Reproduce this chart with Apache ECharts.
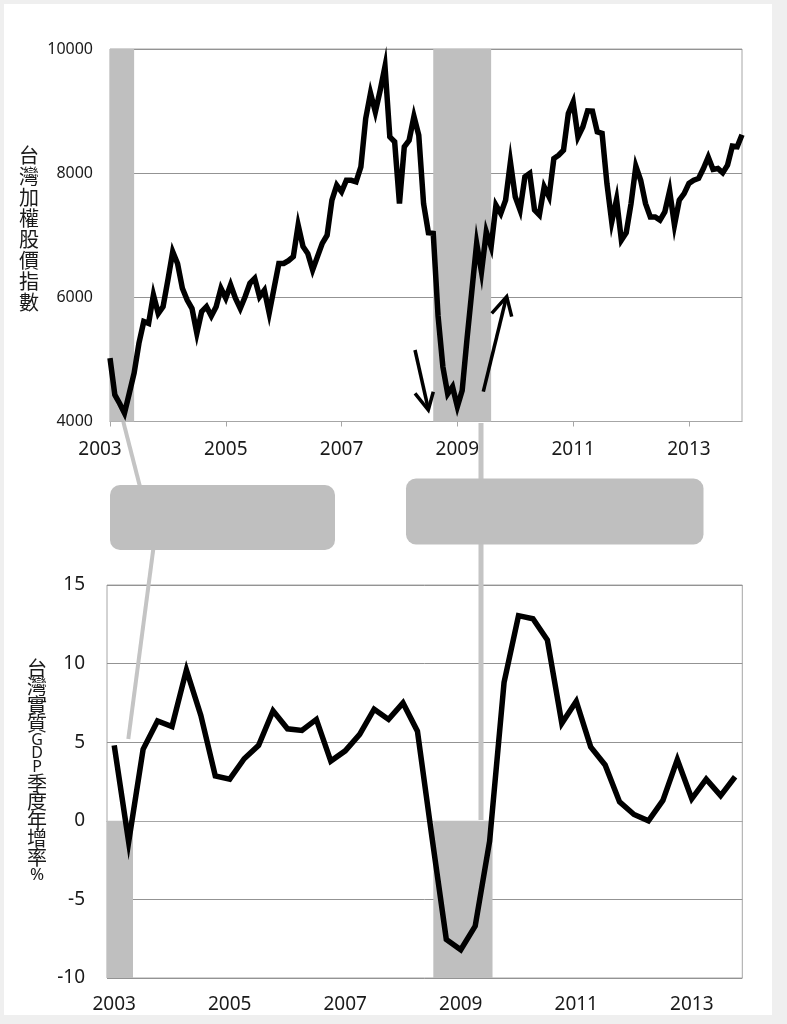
<!DOCTYPE html>
<html>
<head>
<meta charset="utf-8">
<script src="https://cdn.jsdelivr.net/npm/echarts@6/dist/echarts.min.js"></script>
<style>
  html, body { margin: 0; padding: 0; background: #efefef; }
  #paper { position: absolute; left: 4px; top: 4px; width: 768px; height: 1011px; background: #fff; }
  #chart { position: absolute; left: 0; top: 0; width: 787px; height: 1024px; }
</style>
</head>
<body>
<div id="paper"></div>
<div id="chart"></div>
<script>
/* ---------------- data ---------------- */
const years = [2003, 2004, 2005, 2006, 2007, 2008, 2009, 2010, 2011, 2012, 2013];

// 台灣加權股價指數, monthly, Jan 2003 - Dec 2013
const taiex = [
  5020, 4430, 4290, 4135, 4455, 4780, 5260, 5610, 5580, 6040, 5740, 5850,
  6280, 6735, 6545, 6145, 5955, 5820, 5420, 5770, 5850, 5700, 5850, 6145,
  5985, 6200, 5985, 5820, 6010, 6225, 6305, 6010, 6115, 5745, 6145, 6545,
  6545, 6590, 6655, 7165, 6820, 6705, 6440, 6655, 6870, 7000, 7565, 7805,
  7700, 7885, 7885, 7860, 8100, 8880, 9290, 8985, 9335, 9720, 8585, 8505,
  7510, 8425, 8530, 8915, 8610, 7510, 7040, 7030, 5700, 4880, 4445, 4560,
  4240, 4500, 5330, 6100, 6870, 6410, 7055, 6815, 7485, 7350, 7565, 8180,
  7620, 7405, 7940, 7995, 7405, 7325, 7780, 7620, 8235, 8290, 8370, 8960,
  9145, 8585, 8745, 9005, 9000, 8665, 8640, 7835, 7215, 7575, 6920, 7040,
  7510, 8110, 7885, 7510, 7295, 7295, 7245, 7375, 7715, 7165, 7565, 7670,
  7835, 7885, 7915, 8075, 8260, 8060, 8075, 8005, 8130, 8435, 8425, 8620
];

// 台灣實質GDP季度年增率 %, quarterly 2003Q1 - 2013Q4
const gdp = [
  4.8, -1.35, 4.55, 6.35,
  6.0, 9.6, 6.7, 2.85,
  2.65, 3.95, 4.8, 7.0,
  5.85, 5.75, 6.45, 3.8,
  4.45, 5.5, 7.1, 6.45,
  7.5, 5.7, -1.0, -7.55,
  -8.2, -6.7, -1.3, 8.8,
  13.05, 12.85, 11.5, 6.2,
  7.6, 4.7, 3.55, 1.2,
  0.4, 0.0, 1.3, 3.9,
  1.4, 2.65, 1.6, 2.8
];

// recession shading: months for the index chart, quarter units for the GDP chart
const stockShade = [['2003-01', '2003-06'], ['2008-08', '2009-08']];
const gdpShade = [[0, 1.8], [22.6, 26.7]];

/* ---------------- categories ---------------- */
const months = [];
const quarters = [];
years.forEach(y => {
  for (let m = 1; m <= 12; m++) months.push(y + '-' + String(m).padStart(2, '0'));
  for (let q = 1; q <= 4; q++) quarters.push(y + 'Q' + q);
});

const FONT = '"Noto Sans", "Noto Sans CJK TC", sans-serif';
const CJK = '"Noto Sans CJK TC", sans-serif';
const SHADE = '#bfbfbf';
const FRAME = '#a6a6a6';
const GRID = '#939393';
const TXT = '#1a1a1a';

// upright vertical text, one glyph per line
function vtext(str, x, y, size, lh, family) {
  return {
    type: 'text', x: x, y: y, z: 5,
    style: {
      text: str.split('').join('\n'), fill: TXT,
      font: size + 'px ' + family, lineHeight: lh, align: 'center', verticalAlign: 'top'
    }
  };
}

const chart = echarts.init(document.getElementById('chart'));

chart.setOption({
  backgroundColor: 'transparent',
  animation: false,
  grid: [
    { left: 110, top: 49, width: 632, height: 372.5, show: true, borderColor: FRAME, borderWidth: 1 },
    { left: 107, top: 585, width: 635.3, height: 393, show: true, borderColor: FRAME, borderWidth: 1 }
  ],
  xAxis: [
    {
      gridIndex: 0, type: 'category', data: months, boundaryGap: false,
      axisLine: { lineStyle: { color: FRAME } },
      axisTick: { interval: 23, length: 5, lineStyle: { color: FRAME } },
      axisLabel: {
        interval: 23, margin: 19, fontSize: 19, color: TXT, fontFamily: FONT,
        formatter: (v, i) => i === 0 ? '{s|' + v.slice(0, 4) + '}' : v.slice(0, 4),
        rich: { s: { fontSize: 19, color: TXT, fontFamily: FONT, padding: [0, 20, 0, 0] } }
      }
    },
    {
      gridIndex: 1, type: 'category', data: quarters, boundaryGap: true,
      axisLine: { lineStyle: { color: FRAME } },
      axisTick: { interval: 0, length: 5, lineStyle: { color: FRAME } },
      axisLabel: {
        interval: 7, margin: 17, fontSize: 19, color: TXT, fontFamily: FONT,
        formatter: v => v.slice(0, 4)
      }
    },
    // hidden helper axis for the shading in the GDP chart
    { gridIndex: 1, type: 'value', min: 0, max: 44, show: false }
  ],
  yAxis: [
    {
      gridIndex: 0, type: 'value', min: 4000, max: 10000, interval: 2000,
      axisLine: { show: false }, axisTick: { show: false },
      splitLine: { lineStyle: { color: GRID, width: 1 } },
      axisLabel: { margin: 17, fontSize: 16, color: TXT, fontFamily: FONT, formatter: v => String(v) }
    },
    {
      gridIndex: 1, type: 'value', min: -10, max: 15, interval: 5,
      axisLine: { show: false }, axisTick: { show: false },
      splitLine: { lineStyle: { color: GRID, width: 1 } },
      axisLabel: { margin: 22, fontSize: 19, color: TXT, fontFamily: FONT }
    }
  ],
  series: [
    {
      name: '台灣加權股價指數', type: 'line', xAxisIndex: 0, yAxisIndex: 0,
      data: taiex, showSymbol: false, symbol: 'none', z: 3,
      lineStyle: { color: '#000', width: 5.5, join: 'miter' },
      markArea: {
        silent: true, itemStyle: { color: SHADE },
        data: stockShade.map(s => [{ xAxis: s[0] }, { xAxis: s[1] }])
      }
    },
    {
      name: 'shade', type: 'line', xAxisIndex: 2, yAxisIndex: 1, data: [],
      markArea: {
        silent: true, itemStyle: { color: SHADE },
        data: gdpShade.map(s => [{ xAxis: s[0], yAxis: 0 }, { xAxis: s[1], yAxis: -10 }])
      }
    },
    {
      name: '台灣實質GDP季度年增率', type: 'line', xAxisIndex: 1, yAxisIndex: 1,
      data: gdp, showSymbol: false, symbol: 'none', z: 3,
      lineStyle: { color: '#000', width: 5.5, join: 'miter' }
    }
  ],
  graphic: [
    // vertical axis titles (upright characters)
    vtext('台灣加權股價指數', 29, 145, 20, 21, CJK),
    vtext('台灣實質', 37, 659, 20, 18.5, CJK),
    vtext('GDP', 37, 733.5, 16, 13.5, '"Noto Sans", sans-serif'),
    vtext('季度年增率', 37, 774, 20, 18.5, CJK),
    vtext('%', 37, 866, 17, 18, '"Noto Sans", sans-serif'),
    // connectors between the two charts
    { type: 'line', z: 1, shape: { x1: 123.3, y1: 421.7, x2: 139.8, y2: 486 }, style: { stroke: '#c4c4c4', lineWidth: 4 } },
    { type: 'line', z: 1, shape: { x1: 153.3, y1: 549, x2: 128.3, y2: 739 }, style: { stroke: '#c4c4c4', lineWidth: 4 } },
    { type: 'line', z: 1, shape: { x1: 481, y1: 423, x2: 481, y2: 820 }, style: { stroke: '#c4c4c4', lineWidth: 5 } },
    // empty callout boxes
    { type: 'rect', z: 1, shape: { x: 110, y: 485, width: 225, height: 65, r: 10 }, style: { fill: SHADE } },
    { type: 'rect', z: 1, shape: { x: 406, y: 478.5, width: 297.5, height: 66, r: 10 }, style: { fill: SHADE } },
    // arrows
    { type: 'line', z: 6, shape: { x1: 415, y1: 350, x2: 428.3, y2: 409 }, style: { stroke: '#000', lineWidth: 3.5 } },
    { type: 'polyline', z: 6, shape: { points: [[415, 393.3], [428.3, 410], [433.3, 391.7]] }, style: { stroke: '#000', lineWidth: 3.5, fill: null } },
    { type: 'line', z: 6, shape: { x1: 483.3, y1: 391.7, x2: 506.2, y2: 298 }, style: { stroke: '#000', lineWidth: 3.5 } },
    { type: 'polyline', z: 6, shape: { points: [[491.7, 313.3], [506.7, 296.7], [511.7, 316.7]] }, style: { stroke: '#000', lineWidth: 3.5, fill: null } }
  ]
});

window.onresize = function () {
  chart.resize();
};
</script>
</body>
</html>
